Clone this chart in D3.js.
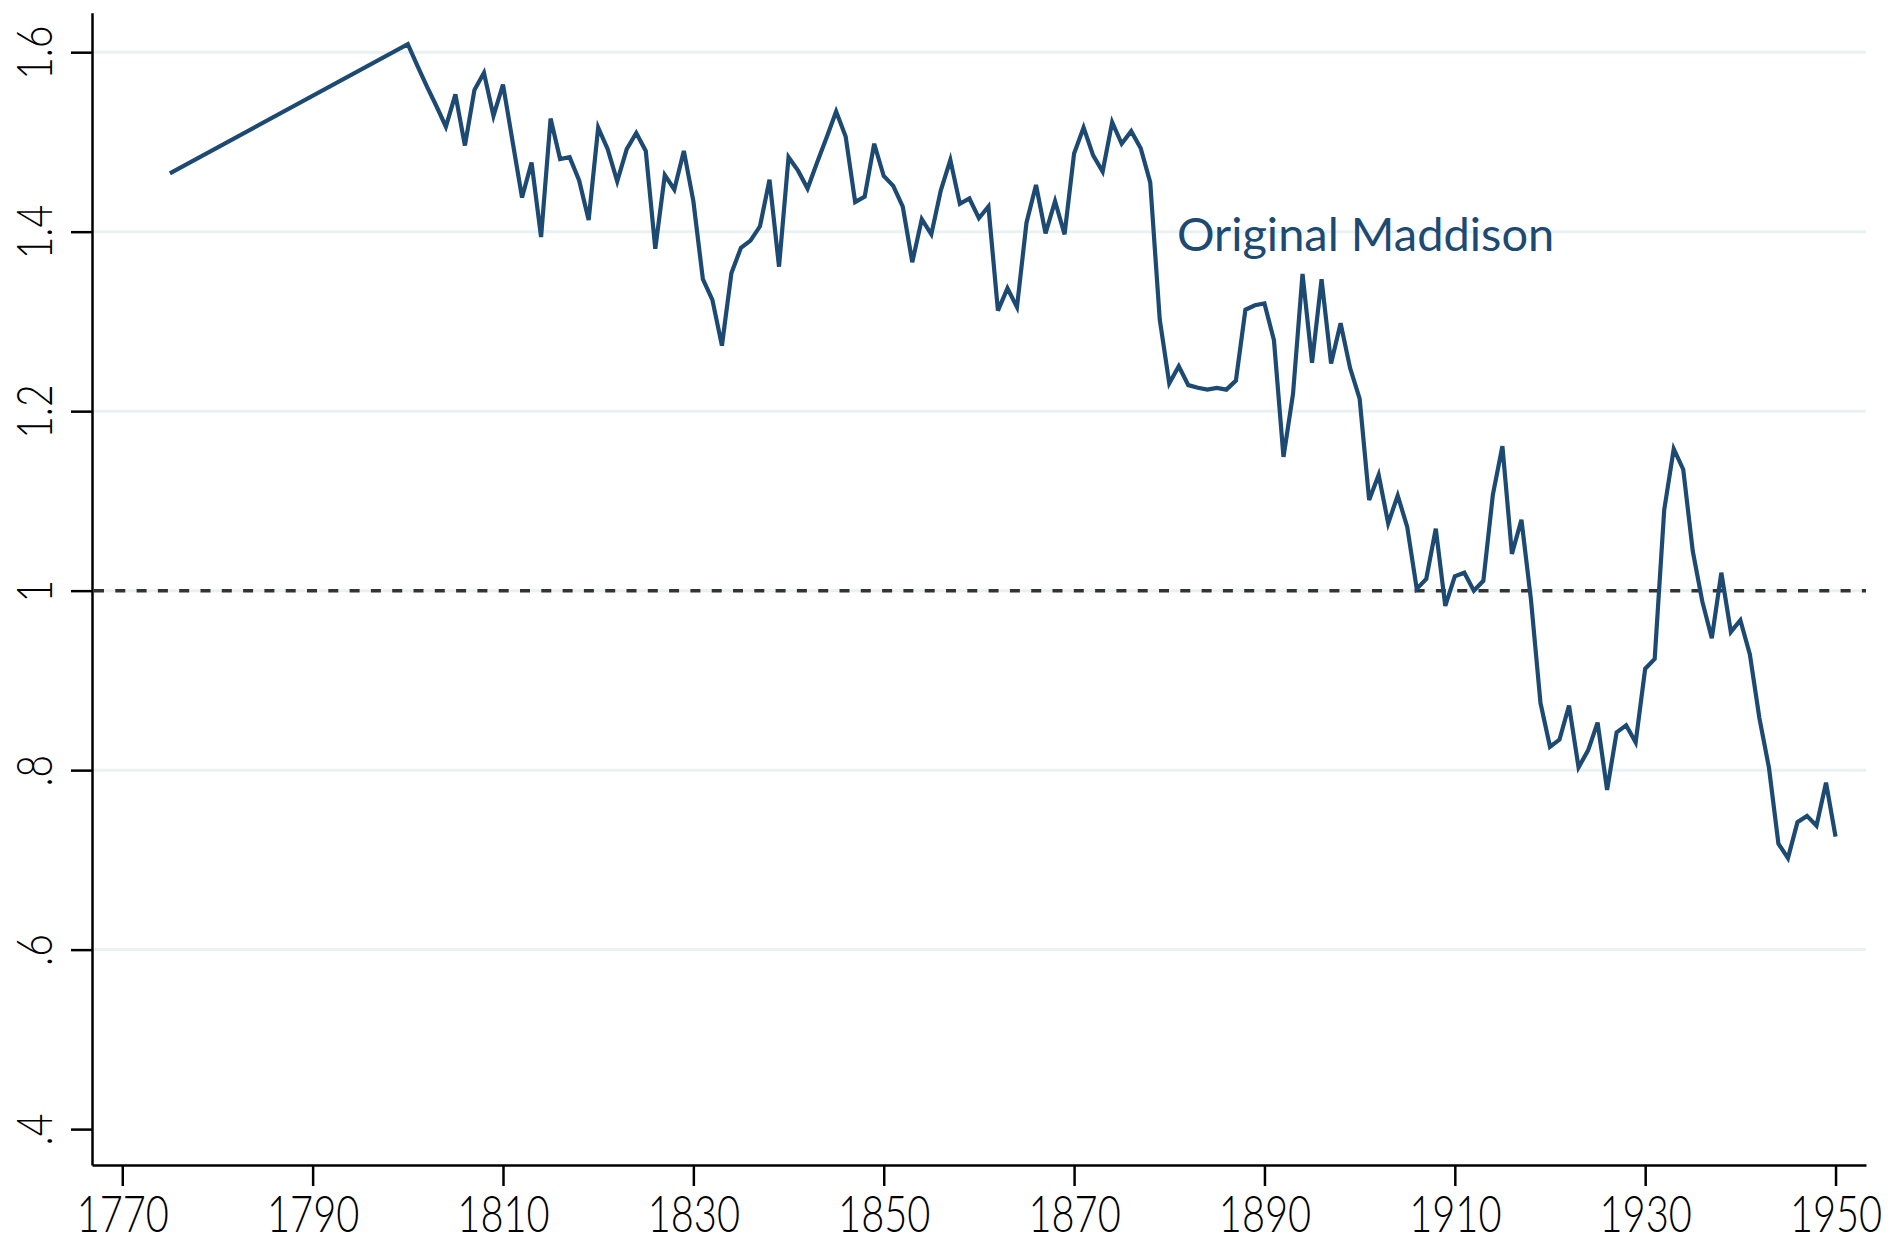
<!DOCTYPE html>
<html>
<head>
<meta charset="utf-8">
<script src="https://cdnjs.cloudflare.com/ajax/libs/d3/7.8.5/d3.min.js"></script>
<style>
    body { margin: 0; background: #fff; }
    svg { display: block; }
</style>
</head>
<body>
<div id="chart"></div>
<script>

// years of the series (1775, then yearly from 1800)
var years = [1775,
    1800, 1801, 1802, 1803, 1804, 1805, 1806, 1807, 1808, 1809,
    1810, 1811, 1812, 1813, 1814, 1815, 1816, 1817, 1818, 1819,
    1820, 1821, 1822, 1823, 1824, 1825, 1826, 1827, 1828, 1829,
    1830, 1831, 1832, 1833, 1834, 1835, 1836, 1837, 1838, 1839,
    1840, 1841, 1842, 1843, 1844, 1845, 1846, 1847, 1848, 1849,
    1850, 1851, 1852, 1853, 1854, 1855, 1856, 1857, 1858, 1859,
    1860, 1861, 1862, 1863, 1864, 1865, 1866, 1867, 1868, 1869,
    1870, 1871, 1872, 1873, 1874, 1875, 1876, 1877, 1878, 1879,
    1880, 1881, 1882, 1883, 1884, 1885, 1886, 1887, 1888, 1889,
    1890, 1891, 1892, 1893, 1894, 1895, 1896, 1897, 1898, 1899,
    1900, 1901, 1902, 1903, 1904, 1905, 1906, 1907, 1908, 1909,
    1910, 1911, 1912, 1913, 1914, 1915, 1916, 1917, 1918, 1919,
    1920, 1921, 1922, 1923, 1924, 1925, 1926, 1927, 1928, 1929,
    1930, 1931, 1932, 1933, 1934, 1935, 1936, 1937, 1938, 1939,
    1940, 1941, 1942, 1943, 1944, 1945, 1946, 1947, 1948, 1949,
    1950];

// Original Maddison ratio
var maddison = [1.465,
    1.609, 1.585, 1.562, 1.540, 1.517, 1.553, 1.496, 1.558, 1.577, 1.529,
    1.564, 1.501, 1.438, 1.477, 1.394, 1.526, 1.481, 1.483, 1.457, 1.413,
    1.516, 1.492, 1.456, 1.492, 1.510, 1.490, 1.381, 1.463, 1.447, 1.490,
    1.434, 1.347, 1.324, 1.273, 1.354, 1.382, 1.390, 1.406, 1.458, 1.361,
    1.483, 1.468, 1.448, 1.477, 1.505, 1.534, 1.506, 1.433, 1.439, 1.498,
    1.462, 1.451, 1.428, 1.366, 1.414, 1.397, 1.446, 1.480, 1.431, 1.437,
    1.415, 1.428, 1.312, 1.337, 1.316, 1.410, 1.452, 1.398, 1.434, 1.397,
    1.487, 1.516, 1.485, 1.467, 1.522, 1.498, 1.512, 1.493, 1.455, 1.302,
    1.231, 1.250, 1.229, 1.226, 1.224, 1.226, 1.224, 1.234, 1.313, 1.318,
    1.320, 1.279, 1.149, 1.219, 1.353, 1.254, 1.347, 1.253, 1.298, 1.248,
    1.214, 1.101, 1.129, 1.075, 1.106, 1.071, 1.002, 1.013, 1.069, 0.983,
    1.016, 1.020, 1.000, 1.011, 1.107, 1.161, 1.041, 1.079, 0.990, 0.875,
    0.826, 0.834, 0.872, 0.803, 0.822, 0.853, 0.778, 0.842, 0.850, 0.831,
    0.913, 0.924, 1.090, 1.158, 1.135, 1.044, 0.988, 0.947, 1.020, 0.954,
    0.967, 0.929, 0.858, 0.803, 0.718, 0.702, 0.742, 0.749, 0.738, 0.786,
    0.726];

// axis ticks
var xTicks = [1770, 1790, 1810, 1830, 1850, 1870, 1890, 1910, 1930, 1950];
var yTicks = [0.4, 0.6, 0.8, 1, 1.2, 1.4, 1.6];
var yTickLabels = [".4", ".6", ".8", "1", "1.2", "1.4", "1.6"];
var gridValues = [0.6, 0.8, 1, 1.2, 1.4, 1.6];
var refValue = 1;
var seriesLabel = "Original Maddison";

var width = 1896;
var height = 1238;

var lineColor = "#1d4a72";
var tickFont = "Lato, 'Open Sans', sans-serif";

//set scales
var xScale = d3.scaleLinear()
    .domain([1766.82, 1953.2])
    .range([92, 1866]);

var yScale = d3.scaleLinear()
    .domain([0.36, 1.644])
    .range([1165, 12.7]);

var data = years.map(function(y, i) {
    return { year: y, value: maddison[i] };
});

var svg = d3.select("#chart")
    .append("svg")
    .attr("width", width)
    .attr("height", height);

// light gridlines
svg.append("g")
    .selectAll("line")
    .data(gridValues)
    .enter()
    .append("line")
    .attr("x1", xScale.range()[0])
    .attr("x2", xScale.range()[1])
    .attr("y1", d => yScale(d))
    .attr("y2", d => yScale(d))
    .attr("stroke", "#eaf1f2")
    .attr("stroke-width", 3);

// dashed reference line at 1
svg.append("line")
    .attr("x1", xScale.range()[0] + 2)
    .attr("x2", xScale.range()[1])
    .attr("y1", yScale(refValue))
    .attr("y2", yScale(refValue))
    .attr("stroke", "#333333")
    .attr("stroke-width", 3.5)
    .attr("stroke-dasharray", "10,11.3");

// squeeze the tick labels: the original font has narrow digits
function narrow(sel) {
    sel.each(function() {
        var len = this.getComputedTextLength();
        d3.select(this)
            .attr("textLength", len * 0.78)
            .attr("lengthAdjust", "spacingAndGlyphs");
    });
}

// y axis
var yAxis = svg.append("g")
    .attr("transform", "translate(" + xScale.range()[0] + ",0)")
    .call(d3.axisLeft(yScale)
        .tickValues(yTicks)
        .tickSize(21)
        .tickSizeOuter(0)
        .tickFormat((d, i) => yTickLabels[i]));

yAxis.select(".domain").attr("stroke", "#000").attr("stroke-width", 2.5);
yAxis.selectAll(".tick line").attr("stroke", "#000").attr("stroke-width", 2.5);
yAxis.selectAll(".tick text")
    .attr("x", null)
    .attr("dy", null)
    .attr("transform", "translate(-40,0) rotate(-90)")
    .attr("text-anchor", "middle")
    .style("font-family", tickFont)
    .style("font-weight", 300)
    .style("font-size", "50px")
    .attr("fill", "#000")
    .call(narrow);

// x axis
var xAxis = svg.append("g")
    .attr("transform", "translate(0," + yScale.range()[0] + ")")
    .call(d3.axisBottom(xScale)
        .tickValues(xTicks)
        .tickSize(21)
        .tickSizeOuter(0)
        .tickFormat(d3.format("d")));

xAxis.select(".domain").attr("stroke", "#000").attr("stroke-width", 2.5);
xAxis.selectAll(".tick line").attr("stroke", "#000").attr("stroke-width", 2.5);
xAxis.selectAll(".tick text")
    .attr("y", 67)
    .attr("dy", null)
    .style("font-family", tickFont)
    .style("font-weight", 300)
    .style("font-size", "51px")
    .attr("fill", "#000")
    .call(narrow);

// the series
var line = d3.line()
    .x(d => xScale(d.year))
    .y(d => yScale(d.value));

svg.append("path")
    .datum(data)
    .attr("d", line)
    .attr("fill", "none")
    .attr("stroke", lineColor)
    .attr("stroke-width", 4.2)
    .attr("stroke-linejoin", "miter");

// series label
svg.append("text")
    .attr("x", xScale(1880.8))
    .attr("y", yScale(1.378))
    .style("font-family", "Lato, 'Open Sans', sans-serif")
    .style("font-weight", 400)
    .style("font-size", "47px")
    .attr("fill", lineColor)
    .text(seriesLabel);

</script>
</body>
</html>
